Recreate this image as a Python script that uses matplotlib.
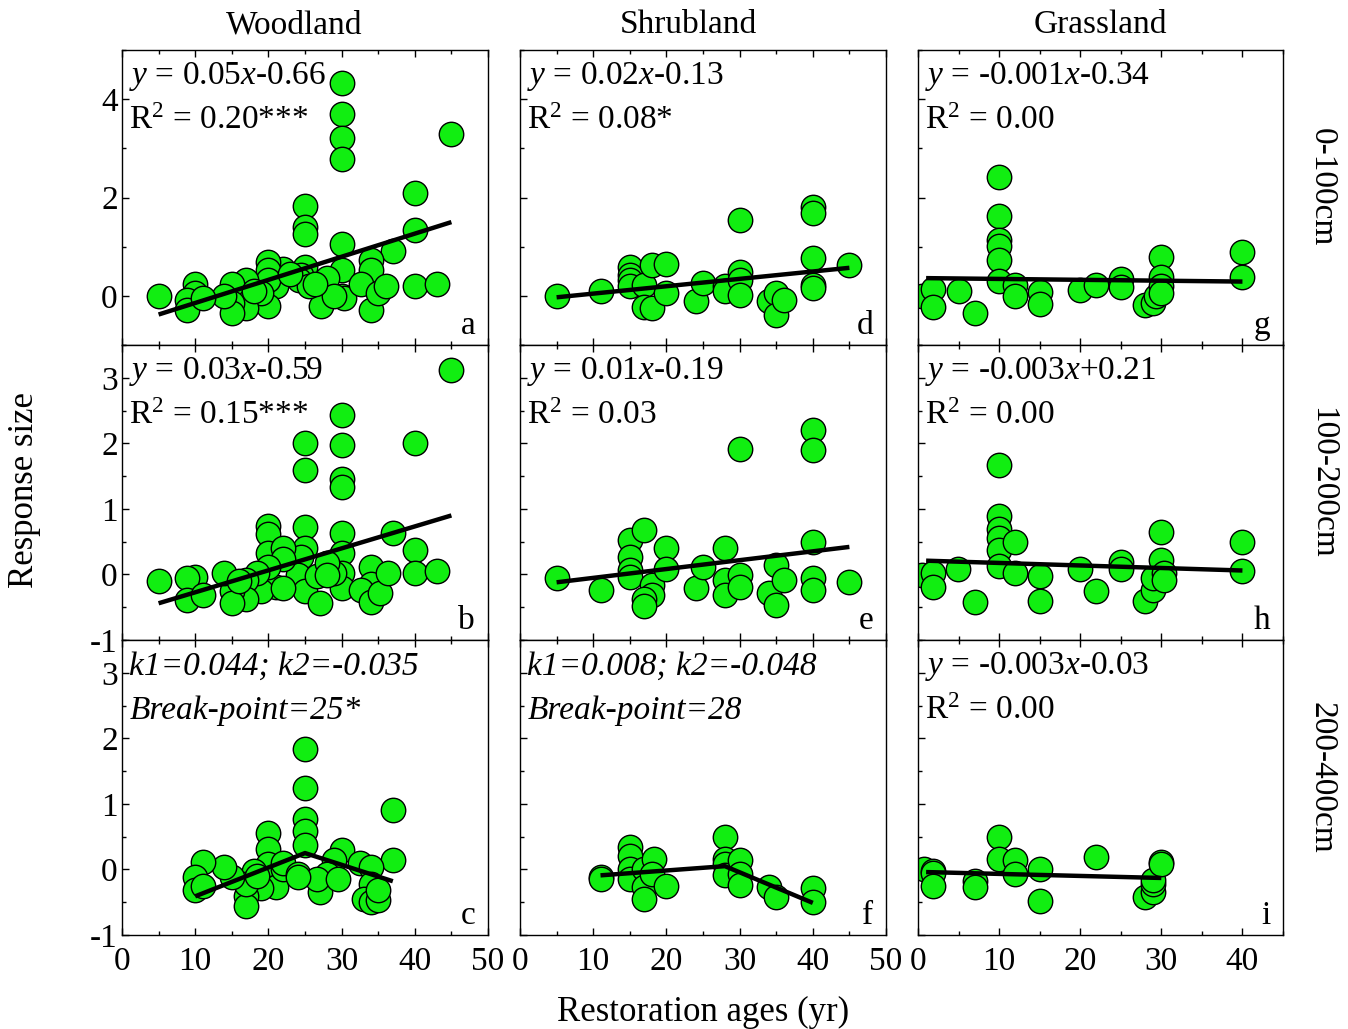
import matplotlib
matplotlib.use("Agg")
import matplotlib.pyplot as plt
from matplotlib.ticker import MultipleLocator

plt.rcParams['font.family'] = ['Liberation Serif', 'DejaVu Serif']
plt.rcParams['axes.unicode_minus'] = False
plt.rcParams['mathtext.fontset'] = 'custom'
plt.rcParams['mathtext.rm'] = 'Liberation Serif'
plt.rcParams['mathtext.it'] = 'Liberation Serif:italic'

# ---------------- data ----------------
columns = ["Woodland", "Shrubland", "Grassland"]
rows = ["0-100cm", "100-200cm", "200-400cm"]

# panel a : Woodland 0-100 cm
a_x = [5, 30, 30, 30, 30, 45, 40, 40, 40, 43, 37, 25, 25, 25, 30, 30, 30, 30.3, 34, 34, 34, 32.7, 35, 36,
       28, 27.2, 29, 25, 24.5, 24.2, 25.5, 26.3, 22, 21, 20, 20, 20, 20, 19, 17, 17, 17, 15, 15, 15, 14,
       10, 10, 8.9, 8.9, 11, 23, 18]
a_y = [-0.01, 4.32, 3.69, 3.21, 2.79, 3.29, 2.09, 1.33, 0.19, 0.25, 0.91, 1.82, 1.40, 1.26, 1.05, 0.52, -0.01,
       -0.05, 0.72, 0.52, -0.28, 0.25, 0.05, 0.19, 0.36, -0.21, -0.01, 0.59, 0.42, 0.32, 0.19, 0.25, 0.54,
       0.19, 0.69, 0.52, 0.32, -0.21, 0.05, 0.32, 0.02, -0.25, 0.25, -0.15, -0.35, -0.01, 0.25, 0.05,
       -0.08, -0.28, -0.05, 0.45, 0.1]
a_fit_x = [5, 45]
a_fit_y = [-0.38, 1.50]

# panel b : Woodland 100-200 cm
b_x = [5, 45, 30, 30, 30, 30, 30, 30, 30, 30, 29, 25, 25, 25, 25, 24.5, 24, 25, 27, 26.7, 28, 28, 40, 40,
       40, 43, 37, 34, 34, 32.7, 34, 35.2, 36.4, 20, 20, 20, 22, 22, 21, 19, 20, 18.5, 17, 17, 15, 15,
       14, 10, 8.9, 8.9, 11, 22, 16]
b_y = [-0.10, 3.12, 2.43, 1.98, 1.45, 1.34, 0.63, 0.32, 0.02, -0.21, 0.02, 2.00, 1.60, 0.72, 0.40, 0.27,
       -0.01, -0.26, -0.44, -0.02, 0.18, -0.01, 2.00, 0.37, 0.02, 0.06, 0.63, 0.12, -0.14, -0.24, -0.42,
       -0.29, 0.02, 0.74, 0.62, 0.33, 0.40, 0.24, -0.19, -0.26, 0.12, 0.02, -0.09, -0.37, -0.26, -0.44,
       0.02, -0.04, -0.06, -0.39, -0.31, -0.2, -0.1]
b_fit_x = [5, 45]
b_fit_y = [-0.44, 0.90]

# panel c : Woodland 200-400 cm (piecewise)
c_x = [25, 25, 25, 25, 25, 37, 37, 20, 20, 20, 21, 22, 22, 24, 19, 18, 17, 17, 17, 15, 14, 11, 10, 10, 11,
       30, 29, 28, 27, 26.7, 29.5, 32.5, 34, 34, 33, 34, 35, 35, 24, 18.5]
c_y = [1.84, 1.25, 0.77, 0.59, 0.37, 0.91, 0.14, 0.56, 0.31, 0.09, -0.27, 0.01, 0.10, -0.07, -0.29,
       -0.02, -0.40, -0.55, -0.22, -0.12, 0.04, 0.11, -0.12, -0.32, -0.25, 0.29, 0.14, -0.07, -0.35,
       -0.14, -0.14, 0.10, 0.04, -0.22, -0.45, -0.50, -0.47, -0.32, -0.12, -0.1]
c_fit_x = [10, 25, 37]
c_fit_y = [-0.41, 0.25, -0.18]

# panel d : Shrubland 0-100 cm
d_x = [5, 11, 15, 15, 15, 15, 17, 17, 18, 18, 20, 20, 24, 25, 28, 28, 30, 30, 30, 30, 40, 40, 40, 40, 40,
       34, 35, 35, 36, 45]
d_y = [0.00, 0.09, 0.59, 0.43, 0.32, 0.19, 0.22, -0.22, -0.25, 0.63, 0.65, 0.05, -0.11, 0.26, 0.19, 0.09,
       1.54, 0.49, 0.32, 0.02, 1.81, 1.68, 0.76, 0.22, 0.16, -0.11, 0.05, -0.39, -0.08, 0.62]
d_fit_x = [5, 45]
d_fit_y = [-0.03, 0.57]

# panel e : Shrubland 100-200 cm
e_x = [5, 11, 15, 15, 15, 15, 17, 18, 18, 17, 17, 20, 20, 24, 25, 28, 28, 28, 30, 30, 30, 40, 40, 40, 40,
       40, 34, 35, 35, 36, 45]
e_y = [-0.05, -0.24, 0.53, 0.27, 0.07, -0.04, 0.68, -0.16, -0.32, -0.37, -0.48, 0.41, 0.08, -0.21, 0.11,
       0.41, -0.09, -0.32, 1.91, -0.01, -0.19, 2.20, 1.90, 0.50, -0.05, -0.24, -0.28, 0.14, -0.46, -0.09,
       -0.11]
e_fit_x = [5, 45]
e_fit_y = [-0.12, 0.42]

# panel f : Shrubland 200-400 cm (piecewise)
f_x = [11, 11, 15, 15, 15, 15, 17, 17, 17, 18.3, 18, 20, 28, 28, 28, 28, 30, 30, 30, 34, 35, 40, 40]
f_y = [-0.12, -0.14, 0.35, 0.20, 0.01, -0.14, 0.01, -0.27, -0.45, 0.16, -0.07, -0.26, 0.49, 0.16, 0.09,
       -0.09, 0.14, -0.07, -0.23, -0.27, -0.42, -0.29, -0.50]
f_fit_x = [11, 28, 40]
f_fit_y = [-0.09, 0.05, -0.51]

# panel g : Grassland 0-100 cm
g_x = [0.45, 1.9, 1.9, 5, 7, 10, 10, 10, 10, 10, 10, 12, 12, 15, 15, 20, 22, 25, 25, 28, 29, 29.3, 30, 30,
       30, 30, 40, 40]
g_y = [0.00, 0.14, -0.23, 0.09, -0.35, 2.41, 1.62, 1.14, 1.01, 0.72, 0.31, 0.22, 0.00, 0.07, -0.16, 0.11,
       0.22, 0.34, 0.18, -0.18, -0.15, -0.01, 0.78, 0.39, 0.19, 0.05, 0.90, 0.39]
g_fit_x = [1, 40]
g_fit_y = [0.36, 0.29]

# panel h : Grassland 100-200 cm
h_x = [0.45, 1.9, 1.9, 4.9, 7, 10, 10, 10, 10, 10, 10, 12, 12, 15, 15, 20, 22, 25, 25, 28, 29, 29, 30, 30,
       30.3, 30.3, 40, 40]
h_y = [-0.01, 0.02, -0.19, 0.08, -0.42, 1.67, 0.89, 0.70, 0.55, 0.37, 0.13, 0.49, 0.02, -0.03, -0.40,
       0.09, -0.25, 0.19, 0.09, -0.40, -0.24, -0.05, 0.65, 0.22, 0.02, -0.08, 0.49, 0.05]
h_fit_x = [1, 40]
h_fit_y = [0.21, 0.06]

# panel i : Grassland 200-400 cm
i_x = [0.7, 1.9, 1.9, 1.9, 7, 7, 10, 10, 12, 12, 15, 15, 22, 28, 29, 29, 29, 30, 30]
i_y = [0.00, -0.02, -0.06, -0.26, -0.18, -0.27, 0.49, 0.16, 0.15, -0.07, 0.01, -0.48, 0.19, -0.42, -0.35,
       -0.22, -0.16, 0.11, 0.09]
i_fit_x = [1, 30]
i_fit_y = [-0.04, -0.13]

annot = [
    [(r"$y$ = 0.05$x$-0.66", r"R$^2$ = 0.20***"),
     (r"$y$ = 0.02$x$-0.13", r"R$^2$ = 0.08*"),
     (r"$y$ = -0.001$x$-0.34", r"R$^2$ = 0.00")],
    [(r"$y$ = 0.03$x$-0.59", r"R$^2$ = 0.15***"),
     (r"$y$ = 0.01$x$-0.19", r"R$^2$ = 0.03"),
     (r"$y$ = -0.003$x$+0.21", r"R$^2$ = 0.00")],
    [("k1=0.044; k2=-0.035", "Break-point=25*"),
     ("k1=0.008; k2=-0.048", "Break-point=28"),
     (r"$y$ = -0.003$x$-0.03", r"R$^2$ = 0.00")],
]
italic_annot = [[False, False, False], [False, False, False], [True, True, False]]
letters = [["a", "d", "g"], ["b", "e", "h"], ["c", "f", "i"]]

panels = [
    [(a_x, a_y, a_fit_x, a_fit_y), (d_x, d_y, d_fit_x, d_fit_y), (g_x, g_y, g_fit_x, g_fit_y)],
    [(b_x, b_y, b_fit_x, b_fit_y), (e_x, e_y, e_fit_x, e_fit_y), (h_x, h_y, h_fit_x, h_fit_y)],
    [(c_x, c_y, c_fit_x, c_fit_y), (f_x, f_y, f_fit_x, f_fit_y), (i_x, i_y, i_fit_x, i_fit_y)],
]

# ---------------- layout ----------------
W, H = 1348, 1029
fig = plt.figure(figsize=(W / 100, H / 100), dpi=100)

col_left = [122, 520, 918]
col_w = [366, 366, 365]
row_top = [50, 345, 640]
row_h = 295
xlims = [(0, 50), (0, 50), (0, 45)]
ylims = [(-1, 5), (-1, 3.5), (-1, 3.5)]
ymaj = [2, 1, 1]
ymin = [1, 0.5, 0.5]
title_x = [294, 688, 1100]

FS = 24
FS_LAB = 25
green = "#11EE11"

for r in range(3):
    for c in range(3):
        ax = fig.add_axes([col_left[c] / W, 1 - (row_top[r] + row_h) / H, col_w[c] / W, row_h / H])
        x, y, fx, fy = panels[r][c]
        ax.scatter(x, y, s=310, c=green, edgecolors="black", linewidths=1.0, zorder=2)
        ax.plot(fx, fy, color="black", lw=3.2, solid_capstyle="butt", zorder=3)
        ax.set_xlim(*xlims[c])
        ax.set_ylim(*ylims[r])
        ax.xaxis.set_major_locator(MultipleLocator(10))
        ax.xaxis.set_minor_locator(MultipleLocator(5))
        ax.yaxis.set_major_locator(MultipleLocator(ymaj[r]))
        ax.yaxis.set_minor_locator(MultipleLocator(ymin[r]))
        ax.tick_params(which="both", direction="in", top=True, right=False, labelsize=FS)
        ax.tick_params(axis="y", pad=3)
        ax.tick_params(axis="x", pad=8)
        ax.tick_params(which="major", length=5, width=1)
        ax.tick_params(which="minor", length=3, width=1)
        if c != 0:
            ax.tick_params(labelleft=False)
        if r != 2:
            ax.tick_params(labelbottom=False)
        for sp in ax.spines.values():
            sp.set_linewidth(1.0)
        l1, l2 = annot[r][c]
        style = "italic" if italic_annot[r][c] else "normal"
        ax.text(0.02, 0.91, l1, transform=ax.transAxes, fontsize=FS, va="center", ha="left", style=style)
        ax.text(0.02, 0.76, l2, transform=ax.transAxes, fontsize=FS, va="center", ha="left", style=style)
        ax.text(0.965, 0.065, letters[r][c], transform=ax.transAxes, fontsize=FS, va="center", ha="right")

# column titles
for c in range(3):
    fig.text(title_x[c] / W, 1 - 25 / H, columns[c], fontsize=FS, ha="center", va="center")
# row labels
for r in range(3):
    fig.text(1322 / W, 1 - (row_top[r] + row_h / 2 - 10) / H, rows[r], fontsize=FS, rotation=270,
             ha="center", va="center")

fig.text(25 / W, 1 - 490 / H, "Response size", fontsize=FS_LAB, rotation=90, ha="center", va="center")
fig.text(703 / W, 1 - 1012 / H, "Restoration ages (yr)", fontsize=FS_LAB, ha="center", va="center")

fig.savefig("out.png", dpi=100)
